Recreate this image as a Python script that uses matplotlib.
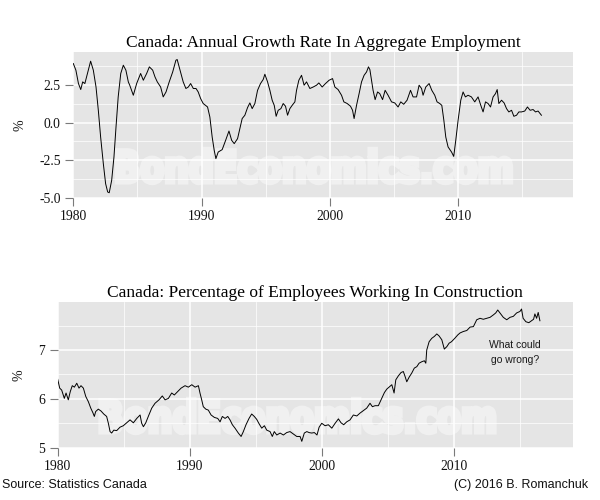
import matplotlib
matplotlib.use('Agg')
import matplotlib.pyplot as plt
from matplotlib.ticker import MultipleLocator, FormatStrFormatter
from matplotlib.textpath import TextPath
from matplotlib.patches import PathPatch
from matplotlib.font_manager import FontProperties
from matplotlib.transforms import Affine2D

# annual growth rate in aggregate employment, %
growth_years = [
    1980.00, 1980.20, 1980.40, 1980.58, 1980.73, 1980.90, 1981.10, 1981.35, 1981.56, 1981.77,
    1981.95, 1982.13, 1982.34, 1982.52, 1982.68, 1982.80, 1982.99, 1983.17, 1983.33, 1983.50,
    1983.70, 1983.90, 1984.10, 1984.29, 1984.40, 1984.68, 1984.94, 1985.25, 1985.46, 1985.72,
    1985.93, 1986.19, 1986.37, 1986.55, 1986.81, 1987.01, 1987.23, 1987.48, 1987.75, 1988.00,
    1988.10, 1988.32, 1988.57, 1988.78, 1988.97, 1989.15, 1989.36, 1989.57, 1989.74, 1989.93,
    1990.13, 1990.47, 1990.65, 1990.83, 1990.99, 1991.12, 1991.30, 1991.61, 1991.88, 1992.14,
    1992.35, 1992.55, 1992.81, 1992.99, 1993.17, 1993.38, 1993.59, 1993.77, 1993.95, 1994.16,
    1994.37, 1994.60, 1994.81, 1994.94, 1995.15, 1995.33, 1995.51, 1995.67, 1995.82, 1995.98,
    1996.19, 1996.37, 1996.55, 1996.71, 1996.89, 1997.07, 1997.28, 1997.41, 1997.59, 1997.80,
    1998.00, 1998.19, 1998.45, 1998.71, 1998.97, 1999.15, 1999.41, 1999.67, 1999.95, 2000.22,
    2000.40, 2000.65, 2000.92, 2001.10, 2001.36, 2001.62, 2001.78, 2001.90, 2002.09, 2002.29,
    2002.48, 2002.68, 2002.87, 2003.02, 2003.13, 2003.26, 2003.38, 2003.54, 2003.73, 2003.90,
    2004.12, 2004.32, 2004.55, 2004.82, 2005.07, 2005.33, 2005.54, 2005.77, 2006.03, 2006.30,
    2006.50, 2006.77, 2006.97, 2007.16, 2007.28, 2007.49, 2007.75, 2007.96, 2008.19, 2008.37,
    2008.58, 2008.74, 2008.90, 2009.05, 2009.23, 2009.50, 2009.67, 2009.83, 2010.01, 2010.22,
    2010.40, 2010.58, 2010.79, 2011.05, 2011.31, 2011.57, 2011.78, 2011.96, 2012.15, 2012.35,
    2012.54, 2012.74, 2012.93, 2013.06, 2013.19, 2013.40, 2013.60, 2013.79, 2013.97, 2014.18,
    2014.36, 2014.57, 2014.75, 2014.96, 2015.21, 2015.42, 2015.63, 2015.86, 2016.05, 2016.25,
    2016.51,
]
growth_pct = [
    3.93, 3.49, 2.60, 2.20, 2.71, 2.60, 3.27, 4.09, 3.49, 2.37,
    0.82, -0.96, -2.73, -4.07, -4.62, -4.67, -3.85, -2.29, -0.29, 1.71,
    3.27, 3.82, 3.49, 2.71, 2.49, 1.82, 2.60, 3.27, 2.82, 3.27,
    3.71, 3.49, 3.04, 2.71, 2.37, 1.71, 2.04, 2.71, 3.37, 4.15,
    4.20, 3.49, 2.71, 2.27, 2.37, 2.60, 2.27, 2.27, 2.04, 1.60,
    1.27, 1.04, 0.37, -0.96, -1.85, -2.40, -1.96, -1.80, -1.18, -0.56,
    -1.18, -1.40, -1.07, -0.40, 0.27, 0.49, 1.00, 1.31, 0.93, 1.27,
    2.15, 2.60, 2.87, 3.22, 2.71, 2.15, 1.49, 1.15, 0.42, 0.82,
    0.93, 1.27, 1.09, 0.49, 0.93, 1.15, 1.38, 2.15, 2.82, 3.15,
    2.49, 2.71, 2.27, 2.37, 2.49, 2.64, 2.37, 2.60, 2.82, 2.93,
    2.37, 2.20, 1.82, 1.38, 1.27, 1.09, 0.82, 0.27, 1.15, 1.93,
    2.71, 3.15, 3.37, 3.71, 3.53, 2.82, 2.15, 1.53, 2.04, 1.93,
    1.53, 2.15, 1.82, 1.38, 1.31, 1.04, 1.38, 1.22, 1.49, 2.15,
    1.71, 1.71, 2.49, 2.27, 1.82, 2.37, 2.60, 2.15, 1.82, 1.38,
    1.27, 1.15, 0.15, -0.96, -1.62, -1.96, -2.25, -1.18, 0.15, 1.49,
    2.04, 1.71, 1.82, 1.71, 1.38, 1.71, 1.15, 0.71, 1.38, 1.27,
    1.04, 1.71, 1.93, 2.20, 1.27, 1.49, 1.31, 0.93, 0.71, 0.82,
    0.42, 0.49, 0.71, 0.71, 0.77, 1.04, 0.82, 0.87, 0.71, 0.77,
    0.49,
]

# share of employees working in construction, %
constr_years = [
    1980.00, 1980.15, 1980.30, 1980.50, 1980.63, 1980.80, 1980.95, 1981.10, 1981.26, 1981.44,
    1981.61, 1981.76, 1981.94, 1982.12, 1982.32, 1982.50, 1982.67, 1982.77, 1982.87, 1983.07,
    1983.28, 1983.48, 1983.70, 1983.83, 1983.96, 1984.08, 1984.24, 1984.46, 1984.71, 1984.96,
    1985.22, 1985.47, 1985.72, 1985.98, 1986.23, 1986.35, 1986.48, 1986.66, 1986.85, 1987.11,
    1987.36, 1987.66, 1987.91, 1988.12, 1988.37, 1988.62, 1988.82, 1989.08, 1989.33, 1989.63,
    1989.88, 1990.14, 1990.39, 1990.64, 1990.76, 1990.89, 1991.01, 1991.20, 1991.39, 1991.60,
    1991.85, 1992.10, 1992.28, 1992.45, 1992.66, 1992.86, 1993.03, 1993.21, 1993.41, 1993.66,
    1993.87, 1994.04, 1994.24, 1994.47, 1994.67, 1994.87, 1995.05, 1995.23, 1995.43, 1995.63,
    1995.81, 1996.06, 1996.23, 1996.38, 1996.57, 1996.82, 1997.07, 1997.32, 1997.57, 1997.82,
    1998.08, 1998.33, 1998.46, 1998.65, 1998.84, 1999.01, 1999.21, 1999.41, 1999.61, 1999.77,
    1999.97, 2000.22, 2000.47, 2000.73, 2000.98, 2001.23, 2001.43, 2001.63, 2001.86, 2002.11,
    2002.36, 2002.62, 2002.87, 2003.12, 2003.37, 2003.62, 2003.80, 2004.00, 2004.25, 2004.51,
    2004.71, 2004.89, 2005.06, 2005.27, 2005.44, 2005.57, 2005.76, 2005.97, 2006.14, 2006.27,
    2006.40, 2006.57, 2006.78, 2006.97, 2007.16, 2007.33, 2007.53, 2007.73, 2007.84, 2007.91,
    2008.09, 2008.29, 2008.49, 2008.67, 2008.84, 2009.05, 2009.24, 2009.43, 2009.60, 2009.78,
    2010.03, 2010.26, 2010.43, 2010.68, 2010.94, 2011.19, 2011.44, 2011.69, 2011.94, 2012.19,
    2012.44, 2012.70, 2012.95, 2013.13, 2013.28, 2013.45, 2013.70, 2013.96, 2014.21, 2014.46,
    2014.71, 2014.96, 2015.08, 2015.20, 2015.41, 2015.63, 2015.84, 2015.99, 2016.09, 2016.22,
    2016.34, 2016.47,
]
constr_pct = [
    6.40, 6.22, 6.18, 6.01, 6.12, 5.98, 6.15, 6.27, 6.24, 6.32,
    6.22, 6.27, 6.22, 6.05, 5.94, 5.81, 5.71, 5.64, 5.74, 5.79,
    5.75, 5.69, 5.64, 5.50, 5.33, 5.30, 5.36, 5.35, 5.42, 5.45,
    5.51, 5.57, 5.51, 5.60, 5.67, 5.50, 5.43, 5.51, 5.64, 5.81,
    5.91, 5.98, 6.06, 5.98, 6.01, 6.12, 6.08, 6.15, 6.22, 6.27,
    6.24, 6.29, 6.24, 6.27, 6.12, 5.98, 5.84, 5.79, 5.77, 5.67,
    5.62, 5.60, 5.53, 5.64, 5.60, 5.64, 5.57, 5.47, 5.40, 5.30,
    5.23, 5.33, 5.47, 5.60, 5.69, 5.64, 5.58, 5.49, 5.40, 5.45,
    5.36, 5.33, 5.23, 5.33, 5.26, 5.30, 5.26, 5.31, 5.33, 5.28,
    5.23, 5.23, 5.13, 5.30, 5.33, 5.31, 5.30, 5.31, 5.26, 5.42,
    5.50, 5.45, 5.47, 5.40, 5.50, 5.59, 5.51, 5.47, 5.53, 5.57,
    5.67, 5.65, 5.71, 5.76, 5.81, 5.91, 5.84, 5.86, 5.86, 6.01,
    6.13, 6.20, 6.24, 6.29, 6.12, 6.39, 6.47, 6.54, 6.56, 6.46,
    6.35, 6.44, 6.53, 6.63, 6.66, 6.73, 6.76, 6.78, 6.73, 7.00,
    7.17, 7.24, 7.28, 7.33, 7.29, 7.21, 7.02, 7.07, 7.14, 7.17,
    7.24, 7.31, 7.35, 7.38, 7.40, 7.47, 7.48, 7.62, 7.65, 7.63,
    7.65, 7.67, 7.72, 7.76, 7.82, 7.76, 7.67, 7.62, 7.67, 7.69,
    7.76, 7.79, 7.84, 7.65, 7.58, 7.56, 7.60, 7.63, 7.74, 7.65,
    7.77, 7.60,
]

SANS = 'Liberation Sans'
plt.rcParams['font.family'] = ['Liberation Serif', 'DejaVu Serif']
wm_font = FontProperties(family='DejaVu Sans', weight='bold')

fig = plt.figure(figsize=(6, 5), dpi=100)
ax1 = fig.add_axes([0.1222, 0.604, 0.8323, 0.2926])
ax2 = fig.add_axes([0.0962, 0.1046, 0.8583, 0.292])


def style(ax, title, ylim, ymajor, yminor, ylabel_x):
    ax.set_facecolor('#E5E5E5')
    for s in ax.spines.values():
        s.set_visible(False)
    ax.set_xlim(1980, 2018.95)
    ax.set_ylim(*ylim)
    ax.xaxis.set_major_locator(MultipleLocator(10))
    ax.xaxis.set_minor_locator(MultipleLocator(5))
    ax.yaxis.set_major_locator(MultipleLocator(ymajor))
    ax.yaxis.set_minor_locator(MultipleLocator(yminor))
    ax.grid(which='major', color='white', lw=1.1)
    ax.grid(which='minor', color='white', lw=0.5)
    ax.set_axisbelow(True)
    ax.tick_params(which='major', length=5.5, width=0.8, color='#7a7a7a',
                   labelsize=9.8, labelcolor='#111111', pad=3.5)
    ax.tick_params(which='minor', length=0)
    ax.set_title(title, fontsize=12.5, pad=3.5, color='black')
    ax.set_ylabel('%', fontsize=10, color='#111111')
    ax.yaxis.set_label_coords(ylabel_x, 0.5)


def watermark(ax, cx, cy, w, h):
    # cx, cy, w, h in output pixels, cy measured from the top
    tp = TextPath((0, 0), 'BondEconomics.com', size=1, prop=wm_font)
    bb = tp.get_extents()
    tr = (Affine2D()
          .translate(-bb.x0 - bb.width / 2, -bb.y0 - bb.height / 2)
          .scale(w / bb.width / 100, h / bb.height / 100)
          .translate(cx / 100, (500 - cy) / 100)
          + fig.dpi_scale_trans)
    ax.add_patch(PathPatch(tp, transform=tr, fc='#F0F0F0', ec='#F0F0F0',
                           lw=3.2, joinstyle='miter', zorder=0.4))


style(ax1, 'Canada: Annual Growth Rate In Aggregate Employment',
      (-5.02, 4.72), 2.5, 1.25, -0.0947)
ax1.yaxis.set_major_formatter(FormatStrFormatter('%.1f'))
ax1.plot(growth_years, growth_pct, color='black', lw=0.7, zorder=3)
watermark(ax1, 314, 166, 394, 34)

style(ax2, 'Canada: Percentage of Employees Working In Construction',
      (5.0, 7.99), 1, 0.5, -0.0616)
ax2.plot(constr_years, constr_pct, color='black', lw=0.7, zorder=3)
watermark(ax2, 297.5, 416, 394, 34)
ax2.text(2014.6, 6.955, 'What could\ngo wrong?', ha='center', va='center',
         family=SANS, fontsize=7.5, color='#1a1a1a', linespacing=1.65, zorder=4)

fig.text(0.003, 1 - 485 / 500, 'Source: Statistics Canada', family=SANS,
         fontsize=9, ha='left', va='center', color='#111111')
fig.text(588 / 600, 1 - 485 / 500, '(C) 2016 B. Romanchuk', family=SANS,
         fontsize=9, ha='right', va='center', color='#111111')

fig.savefig('out.png', dpi=100, facecolor='white')
